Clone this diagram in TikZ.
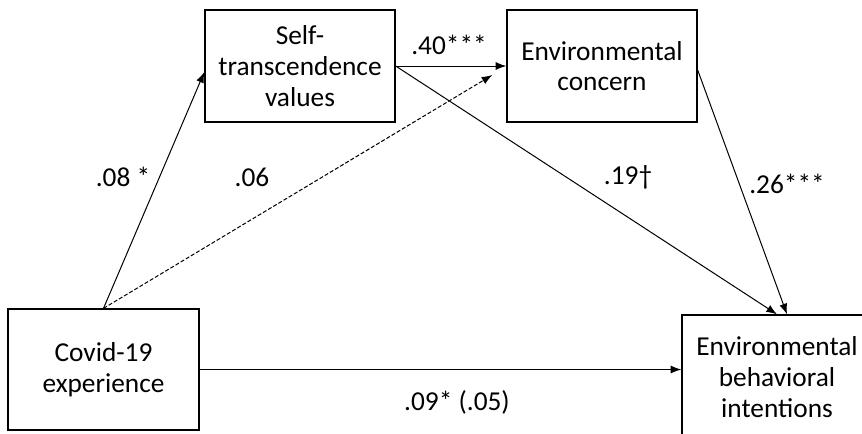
\documentclass[tikz,border=0pt]{standalone}
\usepackage{fontspec}
\setmainfont{Carlito}
\usetikzlibrary{arrows.meta,calc}

\tikzset{
  varbox/.style={draw, line width=1pt, inner sep=0pt, align=center,
    minimum width=142.5pt, minimum height=84pt},
  coef/.style={inner sep=0pt, anchor=center},
  effect/.style={->, line width=0.75pt},
}

\begin{document}
\begin{tikzpicture}[x=0.75pt, y=-0.75pt, >={Latex[length=8pt,width=6pt]},
  font=\fontsize{20.5}{23}\selectfont]

\useasboundingbox (0,0) rectangle (862,433);
\clip (0,0) rectangle (862,433);

% the four variables
\node[varbox] (self) at (300,66) {Self-\\transcendence\\values};
\node[varbox] (concern) at (602,66) {Environmental\\concern};
\node[varbox, minimum width=143.25pt, minimum height=90.75pt] (covid) at (103.5,369.5) {Covid-19\\experience};
\node[varbox, minimum height=93pt] (intent) at (777,377) {Environmental\\behavioral\\intentions};

% paths
\coordinate (dashend) at ([shift={(-14,9)}]concern.west);
\draw[effect] (covid.north) -- ([yshift=-4.5pt]self.west);
\draw[effect, dashed, dash pattern=on 3pt off 1.5pt] (covid.north) -- (dashend);
\draw[effect] (self.east) -- (concern.west);
\draw[effect] (self.east) -- (intent.north);
\draw[effect] ([yshift=-3pt]concern.east) -- ([xshift=7.5pt]intent.north);
\draw[effect] (covid.east) -- (covid.east -| intent.west);

% coefficients
\node[coef] (c1) at (123,177) {.08 *};
\node[coef] (c2) at (252,177) {.06};
\node[coef] (c3) at (449,45) {.40***};
\node[coef] (c4) at (628,177) {.19†};
\node[coef] (c5) at (787,184) {.26***};
\node[coef] (c6) at (457,402) {.09* (.05)};

\end{tikzpicture}
\end{document}
